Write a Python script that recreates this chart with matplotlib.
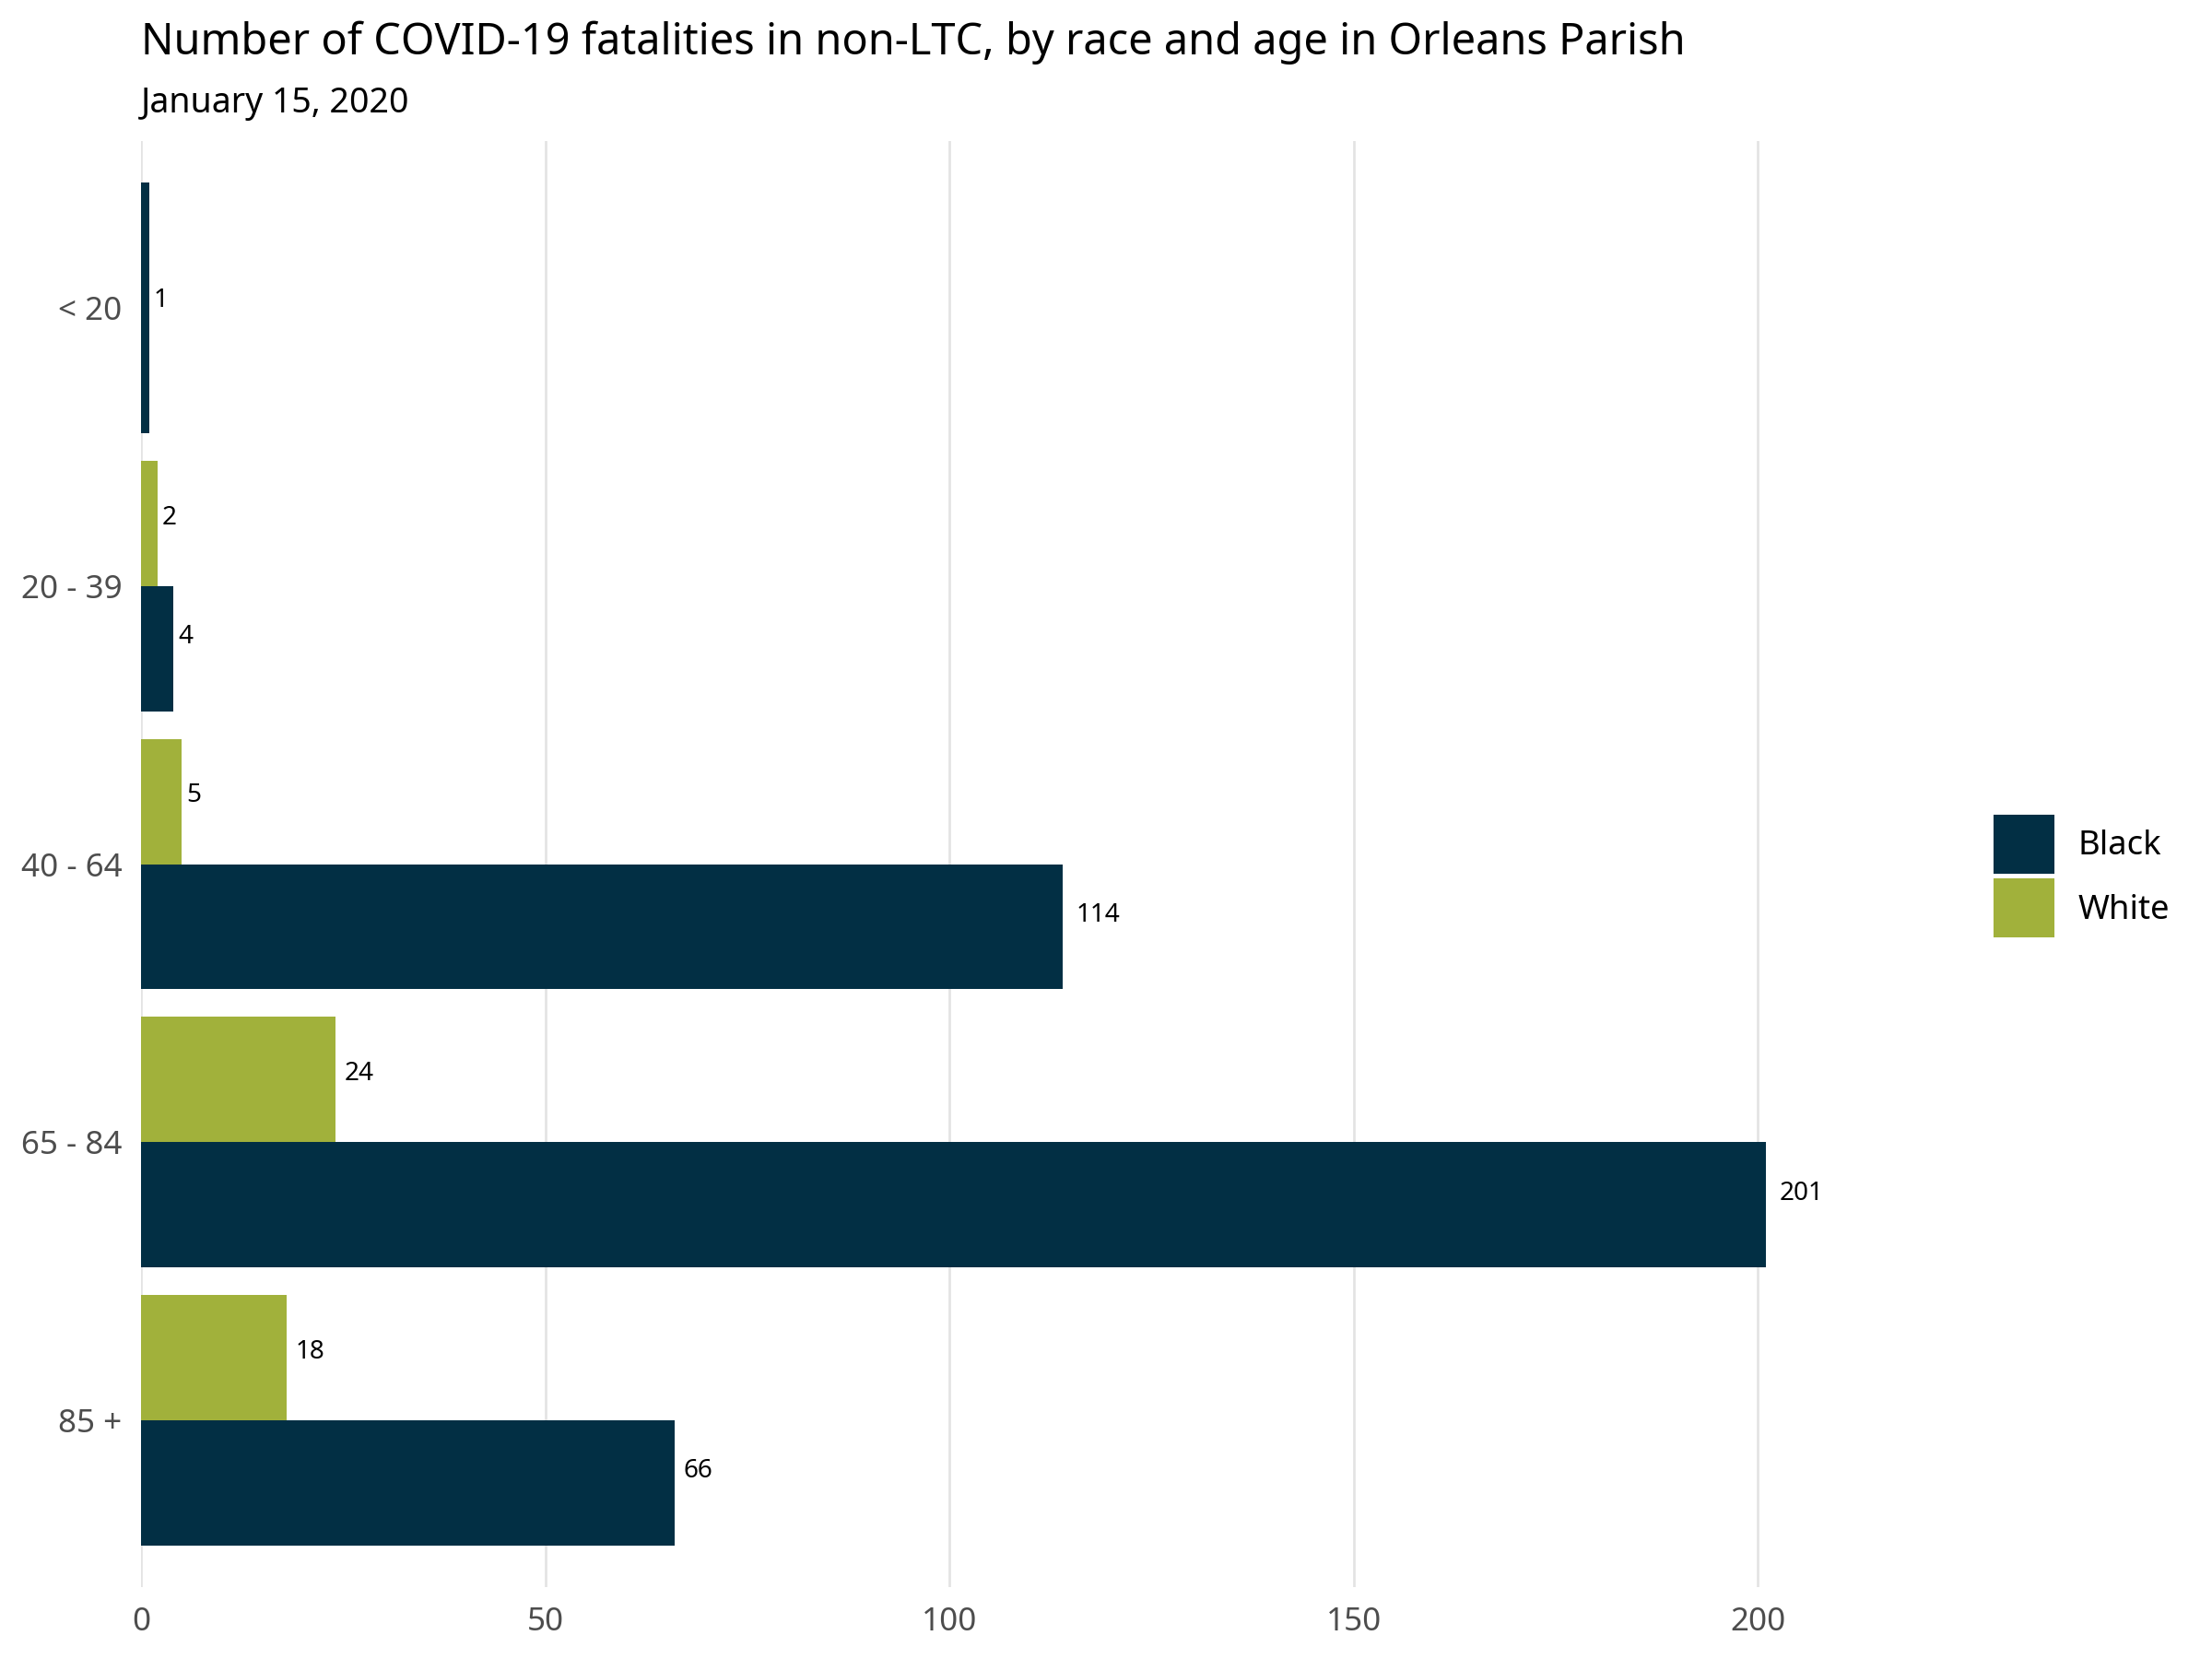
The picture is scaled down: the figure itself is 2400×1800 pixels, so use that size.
import numpy as np
import matplotlib.pyplot as plt
from matplotlib.patches import Patch

plt.rcParams['font.family'] = ['Noto Sans', 'DejaVu Sans']

# data
ages = ['< 20', '20 - 39', '40 - 64', '65 - 84', '85 +']
black = [1, 4, 114, 201, 66]
white = [np.nan, 2, 5, 24, 18]
xticks = [0, 50, 100, 150, 200]

navy = '#022f44'
green = '#a1b13b'

fig = plt.figure(figsize=(16, 12), dpi=150)
ax = fig.add_axes([0.0638, 0.0433, 0.8077, 0.915 - 0.0433])


def label(val, y, dy):
    # offset grows with the text width, like hjust = -0.3
    txt = str(int(val))
    ax.annotate(txt, (val, y), xytext=(2.3 * len(txt), dy), textcoords='offset points',
                va='center', ha='left', fontsize=13.4, color='black')


width = 0.9
for i, age in enumerate(ages):
    b = black[i]
    w = white[i]
    if np.isnan(w):
        # only one group present -> bar takes the full slot
        ax.barh(i, b, height=width, color=navy)
        label(b, i, 4)
    else:
        ax.barh(i - width / 4, w, height=width / 2, color=green)
        ax.barh(i + width / 4, b, height=width / 2, color=navy)
        label(w, i - width / 4, 3)
        label(b, i + width / 4, 6)

ax.set_xlim(0, 221)
ax.set_ylim(len(ages) - 1 + 0.6, -0.6)
ax.set_yticks(range(len(ages)))
ax.set_yticklabels(ages)
ax.set_xticks(xticks)
ax.tick_params(axis='both', length=0, labelsize=16.8, labelcolor='#4d4d4d', pad=10)
ax.grid(axis='x', color='#e3e3e3', linewidth=1.3)
ax.set_axisbelow(True)
for s in ax.spines.values():
    s.set_visible(False)

fig.text(153 / 2400, 1 - 59 / 1800, 'Number of COVID-19 fatalities in non-LTC, by race and age in Orleans Parish',
         fontsize=22.5, ha='left', va='baseline', color='black')
fig.text(153 / 2400, 1 - 122 / 1800, 'January 15, 2020', fontsize=18, ha='left', va='baseline', color='black')

handles = [Patch(color=navy, label='Black'), Patch(color=green, label='White')]
fig.legend(handles=handles, loc='center left', bbox_to_anchor=(0.9017, 0.472),
           bbox_transform=fig.transFigure, frameon=False, fontsize=17.5,
           handlelength=1.75, handleheight=2.25, labelspacing=0.2,
           handletextpad=0.74, borderpad=0, borderaxespad=0)

fig.savefig('out.png', dpi=150)
